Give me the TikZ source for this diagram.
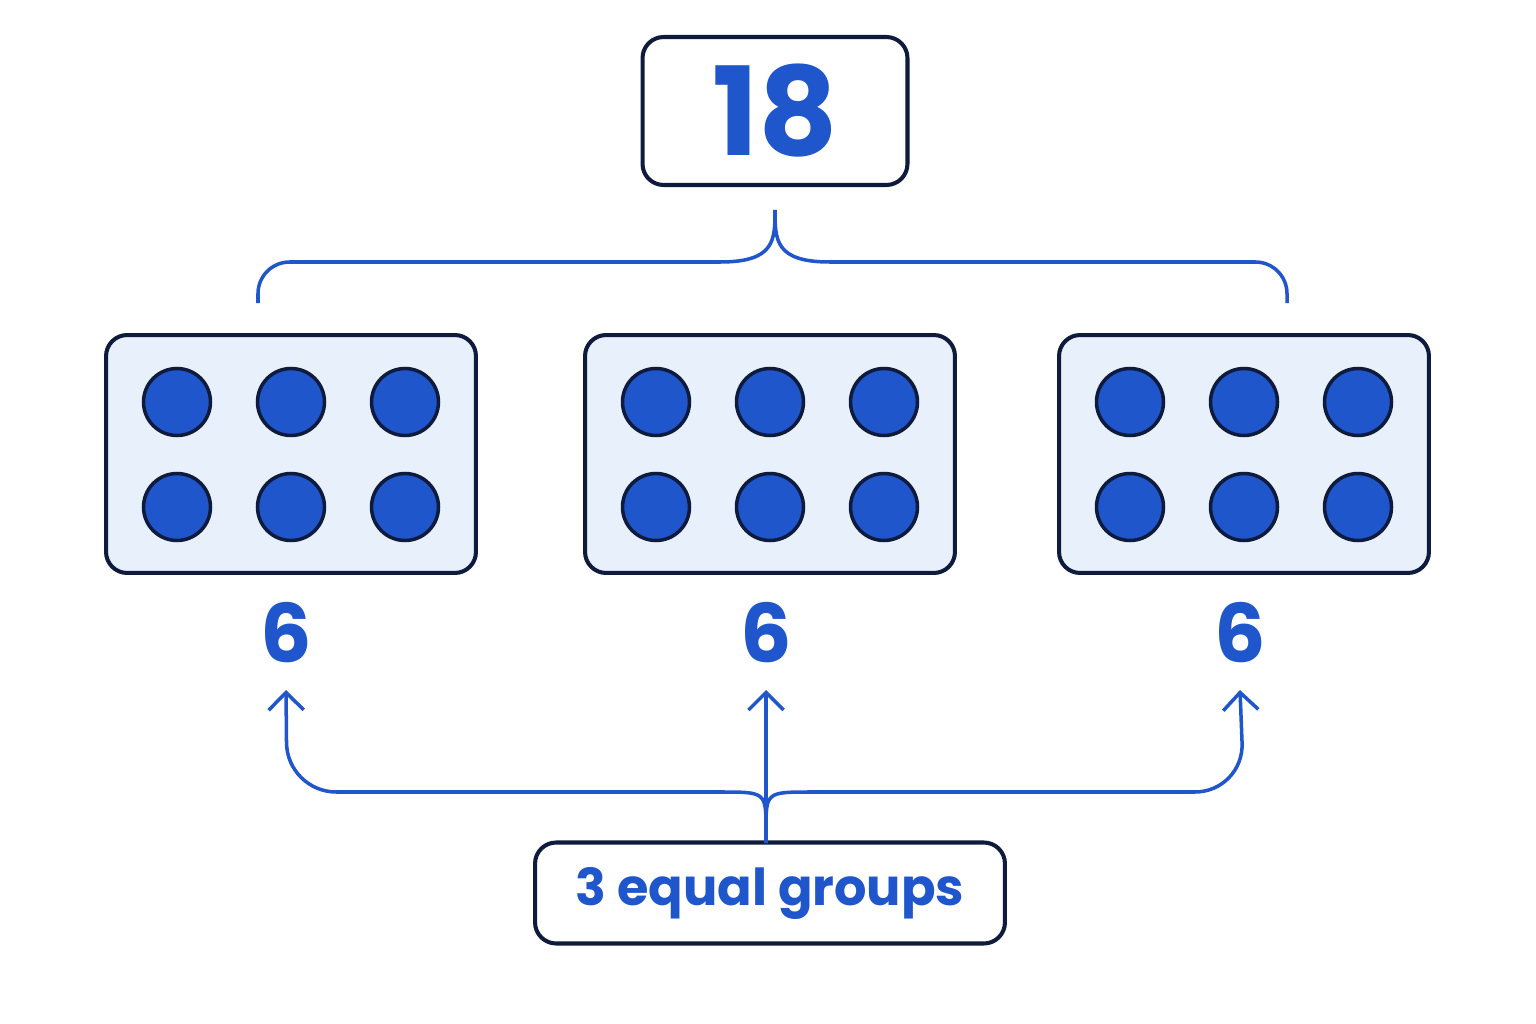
\documentclass[tikz,border=0pt]{standalone}
\usepackage{fontspec}
\setmainfont{Poppins}
\usetikzlibrary{arrows.meta,positioning}
\definecolor{navy}{HTML}{0F1B3D}
\definecolor{blu}{HTML}{1F56CC}
\definecolor{pale}{HTML}{E8F0FC}
\begin{document}
\begin{tikzpicture}[x=0.02cm,y=-0.02cm,
  box/.style={draw=navy,line width=2.3pt,rounded corners=12pt},
  dot/.style={circle,draw=navy,line width=2pt,fill=blu,minimum size=1.34cm,inner sep=0pt},
  link/.style={draw=blu,line width=2pt},
  tip/.style={-{Straight Barb[length=10pt,width=20pt]}},
  num/.style={text=blu,font=\bfseries\fontsize{46}{48}\selectfont}]
  \useasboundingbox (0,0) rectangle (1536,1024);
  % total
  \node (total)[box,minimum width=5.3cm,minimum height=2.96cm,text=blu,
    font=\bfseries\fontsize{70}{72}\selectfont] at (775,111) {18};
  % groups
  \foreach \i/\cx/\lx in {1/291/286,2/770/766,3/1244/1240}{
    \node (g\i)[box,fill=pale,minimum width=7.4cm,minimum height=4.76cm] at (\cx,454) {};
    \foreach \dx in {-114,0,114}{
      \node[dot] at (\cx+\dx,402) {};
      \node[dot] at (\cx+\dx,507) {};
    }
    \node (n\i)[num] at (\lx,633) {6};
    \coordinate (t\i) at (\lx,690);
  }
  % brace
  \coordinate (top) at (775,210);
  \draw[link,rounded corners=18pt] (258,303) -- (258,262) -- (720,262);
  \draw[link] (720,262) .. controls (775,262) and (775,240) .. (top);
  \draw[link,rounded corners=18pt] (1287,303) -- (1287,262) -- (830,262);
  \draw[link] (830,262) .. controls (775,262) and (775,240) .. (top);
  % label
  \node (eq)[box,minimum width=9.4cm,minimum height=2.02cm,text=blu,
    font=\bfseries\fontsize{29}{31}\selectfont] at (770,893) {3 equal groups};
  \coordinate (fork) at (766,843);
  \draw[link,tip] (fork) -- (t2);
  \draw[link] (fork) -- (766,830) .. controls (766,792) .. (720,792);
  \draw[link] (fork) -- (766,830) .. controls (766,792) .. (812,792);
  \draw[link,tip,rounded corners=28pt] (720,792) -- (287,792) -- (t1);
  \draw[link,tip,rounded corners=28pt] (812,792) -- (1244,792) -- (t3);
\end{tikzpicture}
\end{document}
